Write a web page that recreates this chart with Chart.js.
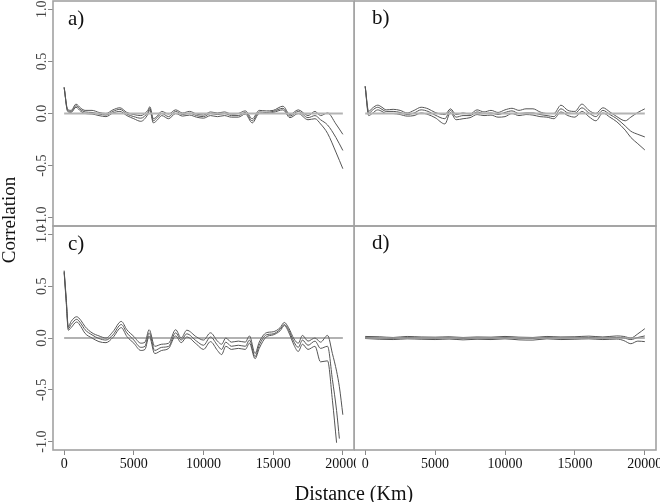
<!DOCTYPE html>
<html>
<head>
<meta charset="utf-8">
<script src="https://cdn.jsdelivr.net/npm/chart.js@4.4.1/dist/chart.umd.min.js"></script>
<style>
    body { margin: 0; background: #fff; }
    #fig { position: relative; width: 660px; height: 502px; background: #fff; overflow: hidden;
           font-family: "Liberation Serif", "DejaVu Serif", serif; color: #111; }
    #fig canvas { position: absolute; }
    .panel-tag { position: absolute; font-size: 21px; line-height: 21px; white-space: nowrap; }
    #ylab { position: absolute; left: -91px; top: 210px; width: 200px; text-align: center;
            font-size: 19px; line-height: 20px; transform: rotate(-90deg); }
    #xlab { position: absolute; left: 254px; top: 483px; width: 200px; text-align: center;
            font-size: 20px; line-height: 20px; }
</style>
</head>
<body>
<div id="fig">
    <canvas id="panel-a" width="356" height="228" style="left:0;top:0"></canvas>
    <canvas id="panel-b" width="306" height="228" style="left:354px;top:0"></canvas>
    <canvas id="panel-c" width="356" height="278" style="left:0;top:224px"></canvas>
    <canvas id="panel-d" width="306" height="278" style="left:354px;top:224px"></canvas>
    <div class="panel-tag" style="left:68px;top:8px">a)</div>
    <div class="panel-tag" style="left:372px;top:7px">b)</div>
    <div class="panel-tag" style="left:68px;top:233px">c)</div>
    <div class="panel-tag" style="left:372px;top:232px">d)</div>
    <div id="ylab">Correlation</div>
    <div id="xlab">Distance (Km)</div>
</div>
<script>
/* ─── Data (distance in km, spline correlogram: upper CI / estimate / lower CI) ─── */
var distTicks = [0, 5000, 10000, 15000, 20000];
var corrTicks = [-1, -0.5, 0, 0.5, 1];
var zeroDist = [0, 20000];
var zeroVal = [0, 0];

var distA = [0, 250, 500, 850, 1200, 1500, 2000, 2500, 3000, 3500, 4000, 4500, 5000, 5500, 6000, 6150, 6400, 6700, 7000, 7500, 8000, 8500, 9000, 9500, 10000, 10500, 11000, 11500, 12000, 12500, 13000, 13500, 14000, 14500, 15000, 15700, 16200, 16800, 17500, 18000, 18400, 18900, 19500, 20000];
var aUpper = [0.25, 0.04, 0.03, 0.09, 0.05, 0.03, 0.03, 0.01, 0.0, 0.035, 0.055, 0.01, -0.01, -0.02, 0.03, 0.065, -0.05, -0.02, 0.02, -0.005, 0.035, 0.005, 0.02, -0.005, -0.015, 0.015, 0.005, 0.015, -0.005, 0.0, 0.025, -0.05, 0.03, 0.025, 0.03, 0.07, -0.01, 0.035, -0.02, 0.02, -0.02, 0.005, -0.1, -0.2];
var aEstimate = [0.25, 0.03, 0.02, 0.075, 0.035, 0.015, 0.01, -0.005, -0.015, 0.02, 0.04, -0.005, -0.03, -0.045, 0.01, 0.05, -0.07, -0.035, 0.0, -0.03, 0.02, -0.01, 0.003, -0.02, -0.03, 0.0, -0.01, 0.0, -0.02, -0.02, 0.01, -0.07, 0.015, 0.01, 0.02, 0.05, -0.025, 0.02, -0.04, -0.02, -0.06, -0.11, -0.23, -0.355];
var aLower = [0.25, 0.02, 0.01, 0.06, 0.02, 0.0, -0.005, -0.02, -0.03, 0.005, 0.02, -0.02, -0.05, -0.075, -0.01, 0.035, -0.09, -0.06, -0.02, -0.05, 0.0, -0.025, -0.015, -0.035, -0.045, -0.02, -0.03, -0.02, -0.035, -0.035, -0.005, -0.09, 0.0, 0.0, 0.01, 0.035, -0.04, 0.0, -0.06, -0.05, -0.1, -0.19, -0.37, -0.53];

var distB = [0, 250, 500, 900, 1200, 1500, 2000, 2500, 3000, 3500, 4000, 4500, 5000, 5700, 6100, 6500, 7000, 7500, 8000, 8500, 9000, 9500, 10000, 10500, 11000, 11500, 12000, 12500, 13000, 13500, 14000, 14500, 15000, 15500, 16000, 16500, 17000, 17500, 18000, 18600, 19000, 19500, 20000];
var bUpper = [0.26, 0.02, 0.05, 0.08, 0.06, 0.035, 0.04, 0.03, 0.005, 0.03, 0.06, 0.045, 0.01, -0.01, 0.045, -0.01, 0.005, -0.005, 0.035, 0.015, 0.03, 0.01, 0.035, 0.05, 0.03, 0.045, 0.045, 0.015, 0.0, 0.0, 0.08, 0.03, 0.02, 0.09, 0.03, 0.0, 0.055, 0.015, -0.03, -0.07, -0.035, 0.01, 0.045];
var bEstimate = [0.26, 0.0, 0.03, 0.06, 0.04, 0.02, 0.02, 0.01, -0.01, 0.005, 0.035, 0.02, -0.015, -0.05, 0.03, -0.035, -0.02, -0.02, 0.015, 0.0, 0.005, -0.01, 0.01, 0.025, 0.0, 0.005, 0.005, -0.01, -0.02, -0.03, 0.045, 0.005, 0.0, 0.055, 0.005, -0.03, 0.03, -0.01, -0.05, -0.12, -0.17, -0.2, -0.225];
var bLower = [0.26, -0.02, 0.0, 0.035, 0.02, 0.0, 0.0, -0.01, -0.025, -0.02, 0.005, -0.01, -0.04, -0.1, 0.01, -0.06, -0.05, -0.04, -0.01, -0.02, -0.015, -0.035, -0.03, 0.0, -0.02, -0.01, -0.015, -0.03, -0.035, -0.05, 0.015, -0.02, -0.035, 0.02, -0.03, -0.07, 0.005, -0.035, -0.08, -0.16, -0.23, -0.29, -0.35];

var distC = [0, 150, 300, 500, 900, 1200, 1500, 2000, 2500, 3000, 3500, 4100, 4500, 5000, 5500, 5800, 6100, 6500, 7000, 7500, 8000, 8400, 8800, 9500, 10000, 10500, 11000, 11300, 11600, 12000, 12500, 13000, 13300, 13700, 14000, 14500, 15000, 15500, 15800, 16100, 16500, 16800, 17100, 17500, 18000, 18400, 18900, 19250, 19550, 19750, 20000];
var cUpper = [0.65, 0.38, 0.11, 0.16, 0.205, 0.17, 0.11, 0.05, 0.02, 0.0, 0.06, 0.16, 0.08, 0.015, -0.05, -0.04, 0.08, -0.08, -0.06, -0.05, 0.08, 0.0, 0.075, 0.01, -0.02, 0.05, -0.03, -0.06, 0.0, -0.04, -0.03, -0.04, 0.02, -0.15, -0.04, 0.05, 0.06, 0.1, 0.15, 0.1, -0.01, -0.05, 0.025, -0.03, 0.0, -0.04, 0.025, -0.15, -0.32, -0.47, -0.74];
var cEstimate = [0.64, 0.36, 0.09, 0.13, 0.18, 0.14, 0.08, 0.03, -0.005, -0.02, 0.03, 0.13, 0.05, -0.02, -0.09, -0.08, 0.05, -0.12, -0.09, -0.08, 0.05, -0.02, 0.04, -0.03, -0.07, 0.01, -0.07, -0.11, -0.04, -0.08, -0.07, -0.08, -0.02, -0.18, -0.07, 0.03, 0.04, 0.085, 0.13, 0.08, -0.04, -0.09, -0.02, -0.07, -0.03, -0.1, -0.08, -0.4, -0.7, -0.97, null];
var cLower = [0.63, 0.34, 0.075, 0.1, 0.155, 0.11, 0.045, 0.0, -0.035, -0.045, 0.005, 0.1, 0.015, -0.05, -0.12, -0.11, 0.02, -0.15, -0.12, -0.1, 0.02, -0.045, 0.01, -0.06, -0.11, -0.035, -0.12, -0.16, -0.08, -0.11, -0.1, -0.11, -0.05, -0.2, -0.1, 0.01, 0.03, 0.07, 0.12, 0.06, -0.07, -0.13, -0.06, -0.11, -0.08, -0.23, -0.22, -0.6, -1.01, null, null];

var distD = [0, 1000, 2000, 3000, 4000, 5000, 6000, 7000, 8000, 9000, 10000, 11000, 12000, 13000, 14000, 15000, 16000, 17000, 18000, 18500, 19000, 19500, 20000];
var dUpper = [0.015, 0.012, 0.005, 0.015, 0.01, 0.008, 0.012, 0.005, 0.01, 0.008, 0.015, 0.008, 0.005, 0.015, 0.01, 0.012, 0.018, 0.01, 0.02, 0.015, 0.0, 0.04, 0.09];
var dEstimate = [0.005, 0.0, -0.005, 0.005, 0.0, -0.002, 0.003, -0.005, 0.0, -0.003, 0.005, -0.003, -0.005, 0.005, 0.0, 0.002, 0.005, 0.0, 0.005, 0.0, -0.015, 0.005, 0.02];
var dLower = [-0.005, -0.012, -0.015, -0.008, -0.012, -0.015, -0.01, -0.018, -0.012, -0.015, -0.008, -0.018, -0.02, -0.008, -0.015, -0.012, -0.008, -0.015, -0.01, -0.025, -0.055, -0.03, -0.035];

(function () {
    'use strict';

    var tickFont = { family: '"Liberation Serif", serif', size: 14 };

    function pts(xs, ys) {
        return xs.map(function (x, i) { return { x: x, y: ys[i] }; });
    }

    // grey frame round each panel, like R's box()
    var boxPlugin = {
        id: 'box',
        afterDraw: function (chart) {
            var a = chart.chartArea, ctx = chart.ctx;
            ctx.save();
            ctx.strokeStyle = '#a2a2a2';
            ctx.lineWidth = 1.6;
            ctx.strokeRect(a.left, a.top, a.right - a.left, a.bottom - a.top);
            ctx.restore();
        }
    };

    function curve(xs, ys) {
        return {
            data: pts(xs, ys),
            borderColor: '#555',
            borderWidth: 1,
            pointRadius: 0,
            cubicInterpolationMode: 'monotone',
            spanGaps: false
        };
    }

    function makePanel(id, xs, up, est, low, o) {
        new Chart(document.getElementById(id), {
            type: 'line',
            data: {
                datasets: [
                    {
                        data: pts(zeroDist, zeroVal),
                        borderColor: o.zeroColor,
                        borderWidth: o.zeroWidth,
                        pointRadius: 0
                    },
                    curve(xs, up),
                    curve(xs, est),
                    curve(xs, low)
                ]
            },
            options: {
                responsive: false,
                animation: false,
                devicePixelRatio: 1,
                layout: { padding: o.pad },
                plugins: { legend: { display: false }, tooltip: { enabled: false } },
                scales: {
                    x: {
                        type: 'linear',
                        min: -800,
                        max: 20800,
                        display: o.showX,
                        afterBuildTicks: function (s) { s.ticks = distTicks.map(function (v) { return { value: v }; }); },
                        afterFit: function (s) {
                            s.paddingLeft = 0;
                            s.paddingRight = 0;
                            if (o.showX) { s.height = 30; }
                        },
                        border: { display: false },
                        grid: { drawOnChartArea: false, drawTicks: true, tickLength: 5, color: '#888' },
                        ticks: {
                            font: tickFont,
                            color: '#111',
                            padding: 1,
                            maxRotation: 0,
                            autoSkip: false,
                            callback: function (v) { return String(v); }
                        }
                    },
                    y: {
                        min: -1.08,
                        max: 1.08,
                        display: o.showY,
                        afterBuildTicks: function (s) { s.ticks = corrTicks.map(function (v) { return { value: v }; }); },
                        afterFit: function (s) {
                            s.paddingTop = 0;
                            s.paddingBottom = 0;
                            if (o.showY) { s.width = 53; }
                        },
                        border: { display: false },
                        grid: { drawOnChartArea: false, drawTicks: true, tickLength: 5, color: '#888' },
                        ticks: {
                            font: tickFont,
                            color: '#444',
                            minRotation: 90,
                            maxRotation: 90,
                            crossAlign: 'center',
                            padding: -5,
                            autoSkip: false,
                            callback: function (v) { return v.toFixed(1); }
                        }
                    }
                }
            },
            plugins: [boxPlugin]
        });
    }

    /* ─── Four panels ─── */
    makePanel('panel-a', distA, aUpper, aEstimate, aLower, {
        showX: false, showY: true, zeroColor: '#b4b4b4', zeroWidth: 2,
        pad: { top: 1, right: 2, bottom: 2, left: 0 }
    });
    makePanel('panel-b', distB, bUpper, bEstimate, bLower, {
        showX: false, showY: false, zeroColor: '#b4b4b4', zeroWidth: 2,
        pad: { top: 1, right: 4, bottom: 2, left: 0 }
    });
    makePanel('panel-c', distC, cUpper, cEstimate, cLower, {
        showX: true, showY: true, zeroColor: '#666', zeroWidth: 1.2,
        pad: { top: 2, right: 2, bottom: 22, left: 0 }
    });
    makePanel('panel-d', distD, dUpper, dEstimate, dLower, {
        showX: true, showY: false, zeroColor: '#999', zeroWidth: 1.5,
        pad: { top: 2, right: 4, bottom: 22, left: 0 }
    });
})();
</script>
</body>
</html>
